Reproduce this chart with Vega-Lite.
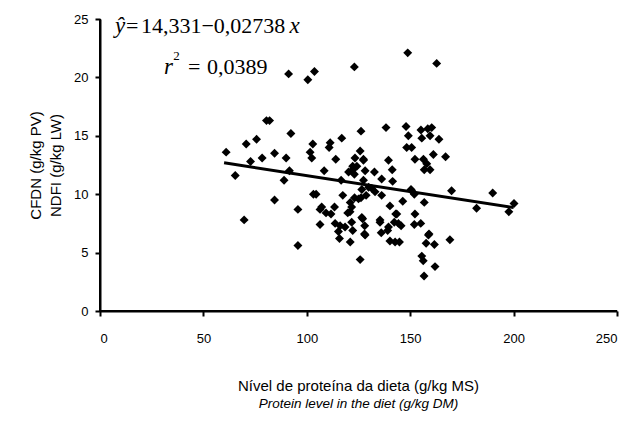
{
  "$schema": "https://vega.github.io/schema/vega-lite/v6.json",
  "width": 517,
  "height": 292,
  "padding": {"left": 28, "top": 13, "right": 5, "bottom": 5},
  "config": {
    "view": {"stroke": null},
    "axis": {
      "grid": false,
      "domain": true,
      "ticks": true,
      "domainColor": "black",
      "domainWidth": 2,
      "tickColor": "black",
      "tickWidth": 2,
      "tickSize": 5,
      "labelColor": "black",
      "labelFont": "Liberation Sans",
      "labelFontSize": 13,
      "titleFont": "Liberation Sans",
      "titleColor": "black",
      "titleFontWeight": "normal"
    }
  },
  "title": {
    "text": "Nível de proteína da dieta (g/kg MS)",
    "subtitle": "Protein level in the diet (g/kg DM)",
    "orient": "bottom",
    "anchor": "middle",
    "frame": "group",
    "offset": 34,
    "font": "Liberation Sans",
    "fontSize": 15,
    "fontWeight": "normal",
    "color": "black",
    "subtitleFont": "Liberation Sans",
    "subtitleFontSize": 13.5,
    "subtitleFontStyle": "italic",
    "subtitleColor": "black",
    "subtitlePadding": 3
  },
  "datasets": {
    "pts": [
      {"x":61,"y":13.6},{"x":65.4,"y":11.6},{"x":69.7,"y":7.8},{"x":70.7,"y":14.3},{"x":72.8,"y":12.8},{"x":75.7,"y":14.7},{"x":78.4,"y":13.1},{"x":80.5,"y":16.3},{"x":82,"y":16.3},{"x":84.4,"y":13.5},{"x":84.4,"y":9.5},{"x":89,"y":11.2},{"x":90,"y":13.1},{"x":91.6,"y":12},{"x":92.3,"y":15.2},{"x":91.2,"y":20.3},{"x":95.7,"y":8.7},{"x":95.7,"y":5.6},{"x":100.5,"y":19.8},{"x":103.7,"y":20.5},{"x":101.6,"y":13.6},{"x":102.4,"y":13.1},{"x":102.9,"y":14.3},{"x":103.2,"y":10},{"x":104.5,"y":10},{"x":106.4,"y":8.7},{"x":107.2,"y":8.9},{"x":109.3,"y":8.4},{"x":106.4,"y":7.4},{"x":108.4,"y":12},{"x":110.8,"y":14},{"x":111.3,"y":14.4},{"x":111.7,"y":8.3},{"x":113.4,"y":8.9},{"x":113.7,"y":7.5},{"x":114,"y":13},{"x":115.3,"y":6.8},{"x":115.8,"y":6.2},{"x":116.1,"y":7.3},{"x":116.6,"y":11.2},{"x":116.9,"y":14.8},{"x":117.4,"y":9.9},{"x":118.5,"y":7.2},{"x":119.8,"y":8.4},{"x":120.2,"y":11.9},{"x":120.9,"y":8.5},{"x":121,"y":9.3},{"x":121,"y":5.9},{"x":121.7,"y":8.9},{"x":121.7,"y":7.6},{"x":122.2,"y":6.9},{"x":122.2,"y":12.1},{"x":122.2,"y":12.4},{"x":123,"y":20.9},{"x":123,"y":11.7},{"x":123.1,"y":9.7},{"x":123.3,"y":13.1},{"x":124.2,"y":12.4},{"x":125,"y":9.6},{"x":125.8,"y":13.7},{"x":125.8,"y":4.4},{"x":126.2,"y":15.4},{"x":126.2,"y":9.7},{"x":126.6,"y":10.4},{"x":126.6,"y":8},{"x":127,"y":7.9},{"x":127.4,"y":13},{"x":127.4,"y":12.9},{"x":127.4,"y":11.2},{"x":127.9,"y":6.6},{"x":128,"y":7.3},{"x":128.2,"y":12},{"x":128.2,"y":6.5},{"x":128.7,"y":9.9},{"x":129.9,"y":10.6},{"x":131.4,"y":10.5},{"x":132.7,"y":11.9},{"x":133,"y":10.2},{"x":135.4,"y":7.8},{"x":135.4,"y":7.6},{"x":136,"y":6.7},{"x":136.2,"y":11.3},{"x":136.2,"y":9.9},{"x":138.3,"y":15.7},{"x":139.1,"y":6.9},{"x":139.5,"y":12.9},{"x":139.5,"y":7.2},{"x":140.2,"y":9},{"x":140.2,"y":6},{"x":141.3,"y":12.1},{"x":141.5,"y":11.1},{"x":142.3,"y":7.6},{"x":142.7,"y":5.9},{"x":143,"y":8.3},{"x":143.5,"y":8.3},{"x":144.3,"y":7.5},{"x":144.8,"y":5.9},{"x":145.6,"y":7.3},{"x":146.4,"y":9.4},{"x":148,"y":15.8},{"x":148.3,"y":14},{"x":148.8,"y":22.1},{"x":149.1,"y":15},{"x":150.4,"y":10.4},{"x":150.7,"y":14},{"x":150.7,"y":10.3},{"x":152,"y":10},{"x":152,"y":7.4},{"x":152.3,"y":13},{"x":152.3,"y":8.3},{"x":155.1,"y":7.5},{"x":155.2,"y":15.5},{"x":155.6,"y":14.8},{"x":155.6,"y":4.7},{"x":156.3,"y":4.3},{"x":156.4,"y":13},{"x":156.7,"y":3},{"x":156.8,"y":12.1},{"x":156.8,"y":9.3},{"x":157.7,"y":5.8},{"x":158,"y":12.6},{"x":158.5,"y":15.6},{"x":158.8,"y":6.5},{"x":159.1,"y":6.6},{"x":159.6,"y":15},{"x":159.6,"y":12.1},{"x":160.4,"y":15.7},{"x":161.2,"y":13.4},{"x":161.7,"y":5.7},{"x":162,"y":3.8},{"x":162.8,"y":21.2},{"x":163.9,"y":14.7},{"x":167.1,"y":13.2},{"x":169.2,"y":6.1},{"x":170,"y":10.3},{"x":182.1,"y":8.8},{"x":189.9,"y":10.1},{"x":197.7,"y":8.5},{"x":200.2,"y":9.2}
    ],
    "fit": [{"x":60,"y":12.688},{"x":200,"y":8.855}],
    "frame": [{"x":0,"y":25,"o":1},{"x":0,"y":0,"o":2},{"x":250,"y":0,"o":3}],
    "eq": [
      {"x":7.25,"y":24.4,"t":"ŷ","it":true},
      {"x":12.6,"y":24.4,"t":"=","it":false},
      {"x":19.8,"y":24.4,"t":"14,331−0,02738","it":false},
      {"x":91.6,"y":24.4,"t":"x","it":true},
      {"x":30.9,"y":20.9,"t":"r","it":true},
      {"x":35.4,"y":21.2,"t":"2","it":false,"sup":true},
      {"x":42.6,"y":20.9,"t":"=","it":false},
      {"x":51.7,"y":20.9,"t":"0,0389","it":false}
    ]
  },
  "encoding": {
    "x": {
      "field": "x",
      "type": "quantitative",
      "scale": {"domain": [0, 250], "nice": false},
      "axis": {"values": [0, 50, 100, 150, 200, 250], "title": null, "labelPadding": 16}
    },
    "y": {
      "field": "y",
      "type": "quantitative",
      "scale": {"domain": [0, 25], "nice": false},
      "axis": {"values": [0, 5, 10, 15, 20, 25], "title": ["CFDN (g/kg PV)", "NDFI (g/kg LW)"], "titleFontSize": 15, "titleLineHeight": 20, "titlePadding": 10, "labelPadding": 7}
    }
  },
  "layer": [
    {
      "data": {"name": "pts"},
      "mark": {"type": "point", "shape": "diamond", "filled": true, "color": "black", "opacity": 1, "size": 80}
    },
    {
      "data": {"name": "fit"},
      "mark": {"type": "line", "color": "black", "strokeWidth": 3},
      "encoding": {}
    },
    {
      "data": {"name": "frame"},
      "mark": {"type": "line", "color": "black", "strokeWidth": 2},
      "encoding": {
        "order": {"field": "o", "type": "quantitative"}
      }
    },
    {
      "data": {"name": "eq"},
      "transform": [{"filter": "datum.it"}],
      "mark": {"type": "text", "align": "left", "baseline": "middle", "font": "Liberation Serif", "fontSize": 23, "fontStyle": "italic", "color": "black"},
      "encoding": {
        "text": {"field": "t"}
      }
    },
    {
      "data": {"name": "eq"},
      "transform": [{"filter": "!datum.it && !datum.sup"}],
      "mark": {"type": "text", "align": "left", "baseline": "middle", "font": "Liberation Serif", "fontSize": 22, "color": "black"},
      "encoding": {
        "text": {"field": "t"}
      }
    },
    {
      "data": {"name": "eq"},
      "transform": [{"filter": "datum.sup"}],
      "mark": {"type": "text", "align": "left", "baseline": "bottom", "font": "Liberation Serif", "fontSize": 13, "color": "black"},
      "encoding": {
        "text": {"field": "t"}
      }
    }
  ]
}
